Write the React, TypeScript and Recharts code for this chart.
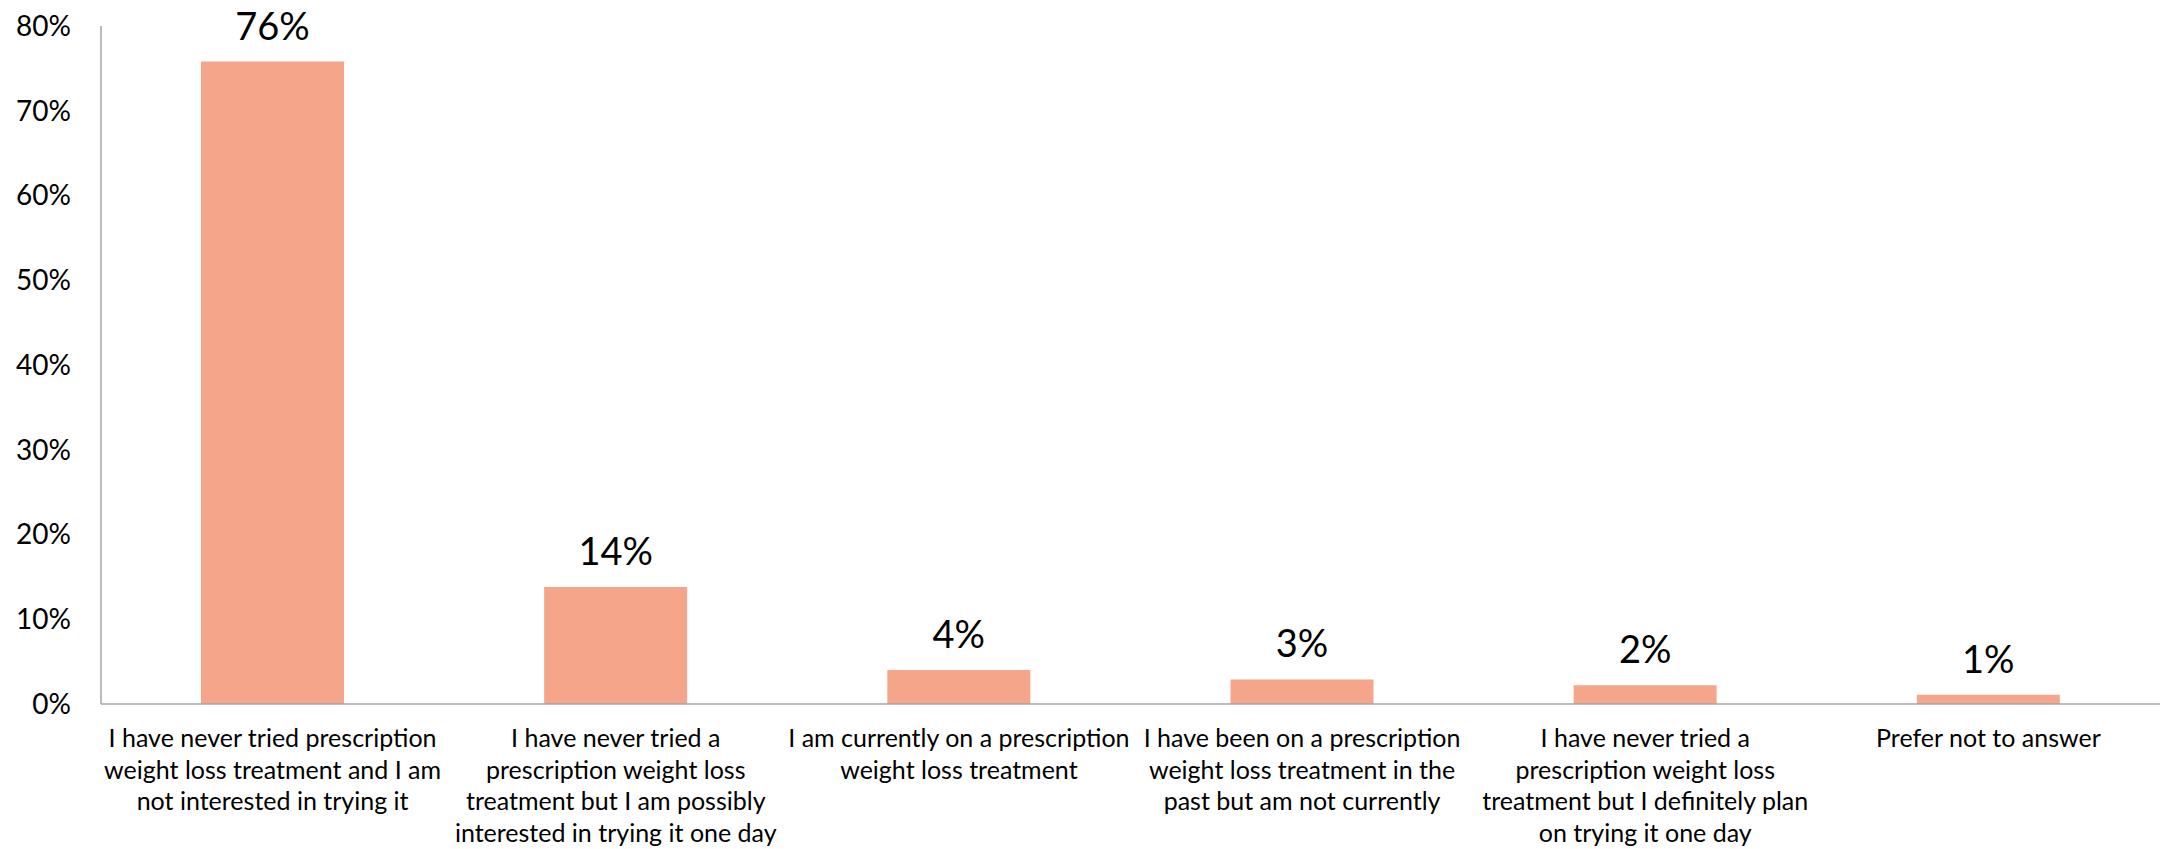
import React from "react";
import { BarChart, Bar, XAxis, YAxis, LabelList } from "recharts";

// Survey answers, one line of the axis label per "\n"
const categories: string[] = [
  "I have never tried prescription\nweight loss treatment and I am\nnot interested in trying it",
  "I have never tried a\nprescription weight loss\ntreatment but I am possibly\ninterested in trying it one day",
  "I am currently on a prescription\nweight loss treatment",
  "I have been on a prescription\nweight loss treatment in the\npast but am not currently",
  "I have never tried a\nprescription weight loss\ntreatment but I definitely plan\non trying it one day",
  "Prefer not to answer",
];

// Share of respondents, percent
const shares: number[] = [75.8, 13.8, 4.0, 2.9, 2.2, 1.1];

const yTicks: number[] = [0, 10, 20, 30, 40, 50, 60, 70, 80];

const data = categories.map((name, i) => ({ name, share: shares[i] }));

const FONT = "Lato, 'Open Sans', sans-serif";
const AXIS_COLOR = "#A6A6A6";
const BAR_COLOR = "#F5A68A";

const CategoryTick = (props: any) => {
  const { x, y, payload } = props;
  const lines: string[] = String(payload.value).split("\n");
  return (
    <text x={x} y={y} textAnchor="middle" fontSize={25} fill="#000" fontFamily={FONT}>
      {lines.map((line, i) => (
        <tspan key={i} x={x} dy={i === 0 ? 43 : 31.5}>
          {line}
        </tspan>
      ))}
    </text>
  );
};

export default function App() {
  return (
    <div style={{ position: "absolute", left: 0, top: 0, width: 2162, height: 849, background: "#fff" }}>
      <BarChart
        width={2162}
        height={849}
        data={data}
        margin={{ top: 26, right: 2, bottom: 0, left: 0 }}
      >
        <XAxis
          dataKey="name"
          height={145}
          interval={0}
          tickLine={false}
          tickSize={0}
          tickMargin={0}
          axisLine={{ stroke: AXIS_COLOR, strokeWidth: 1.5 }}
          tick={<CategoryTick />}
        />
        <YAxis
          width={101}
          domain={[0, 80]}
          ticks={yTicks}
          interval={0}
          tickLine={false}
          tickSize={0}
          tickMargin={30}
          axisLine={{ stroke: AXIS_COLOR, strokeWidth: 1.5 }}
          tickFormatter={(v: number) => `${v}%`}
          tick={{ fontSize: 28, fill: "#000", fontFamily: FONT }}
        />
        <Bar dataKey="share" fill={BAR_COLOR} barSize={143} isAnimationActive={false}>
          <LabelList
            dataKey="share"
            position="top"
            offset={22}
            formatter={(v: any) => `${Math.round(Number(v))}%`}
            style={{ fontSize: 38, fill: "#000", fontFamily: FONT }}
          />
        </Bar>
      </BarChart>
    </div>
  );
}
